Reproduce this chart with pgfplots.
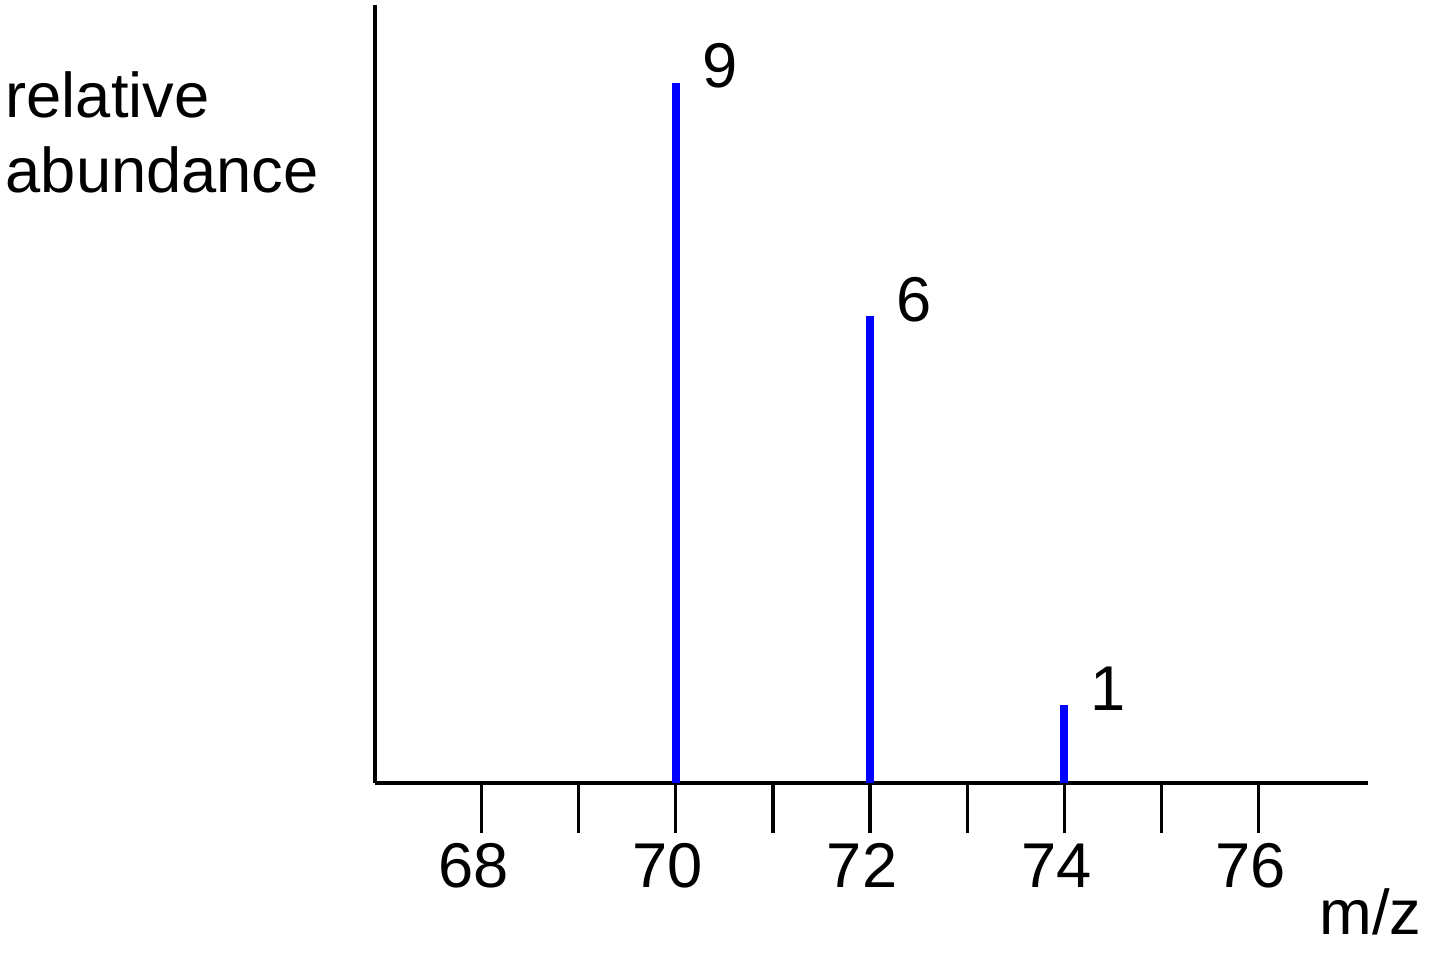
\documentclass[border=0pt]{standalone}
\usepackage{fontspec}
\setmainfont{Liberation Sans}
\usepackage{pgfplots}
\pgfplotsset{compat=1.18}
\newcommand{\bigfont}{\fontsize{18}{21.6}\selectfont}
\begin{document}
\begin{tikzpicture}
\begin{axis}[
    scale only axis, width=9.93cm, height=7.78cm,
    xmin=66.9, xmax=77.13, ymin=0, ymax=10,
    axis lines*=left,
    axis line style={line width=0.9pt},
    ytick=\empty,
    xtick={68,70,72,74,76},
    minor xtick={69,71,73,75},
    tick align=outside,
    major tick length=0.5cm, minor tick length=0.5cm,
    every tick/.style={black, line width=0.9pt},
    tick label style={font=\bigfont, inner sep=0pt},
    /pgf/number format/assume math mode=true,
    xticklabel style={xshift=-0.08cm, yshift=-0.1cm},
    clip=false,
    nodes near coords,
    every node near coord/.style={anchor=south west, inner sep=0pt,
        xshift=0.22cm, yshift=-0.1cm, font=\bigfont, black},
]
\addplot[ycomb, blue, line width=2.4pt, mark=none] coordinates {(70,9) (72,6) (74,1)};
\coordinate (O) at (rel axis cs:0,0);
\end{axis}
\node[anchor=base west, inner sep=0pt, font=\bigfont] at ([shift={(-3.70cm,6.65cm)}]O) {relative};
\node[anchor=base west, inner sep=0pt, font=\bigfont] at ([shift={(-3.70cm,5.90cm)}]O) {abundance};
\node[anchor=base east, inner sep=0pt, font=\bigfont] at ([shift={(10.47cm,-1.52cm)}]O) {m/z};
\path ([shift={(-3.75cm,-1.87cm)}]O) rectangle ++(14.4cm,9.7cm);
\end{tikzpicture}
\end{document}
